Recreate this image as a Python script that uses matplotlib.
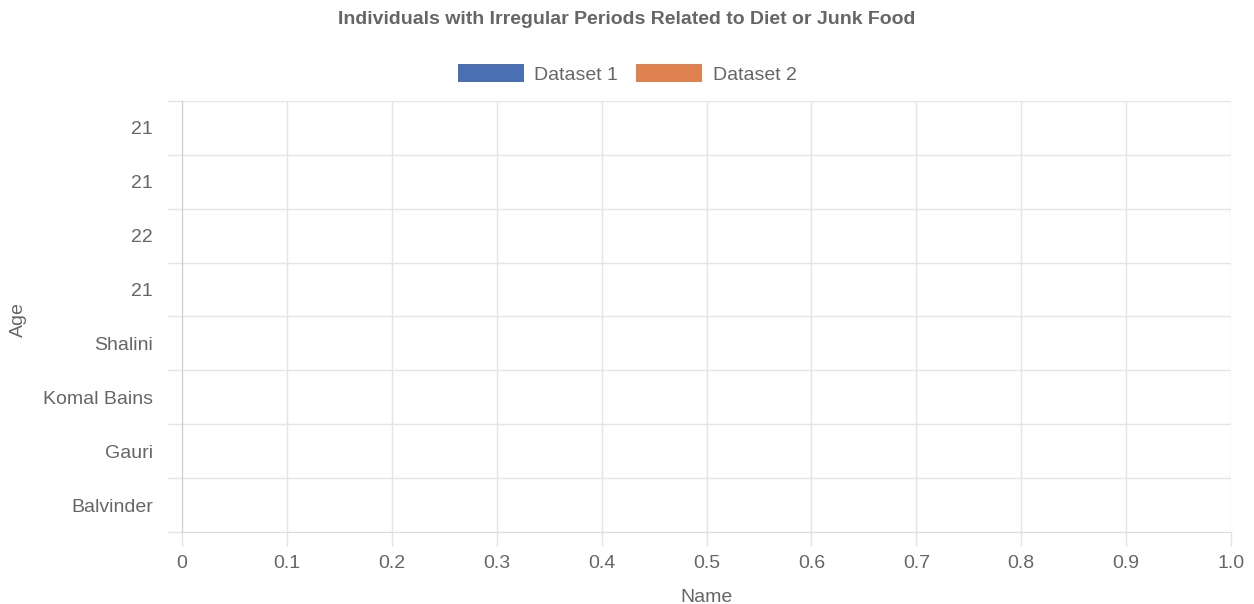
import matplotlib.pyplot as plt
import numpy as np

plt.rcParams["font.family"] = ["Liberation Sans", "DejaVu Sans"]

# Data (bottom to top, as drawn)
names = ["Balvinder", "Gauri", "Komal Bains", "Shalini", "21", "22", "21", "21"]
dataset_1 = [0, 0, 0, 0, 0, 0, 0, 0]
dataset_2 = [0, 0, 0, 0, 0, 0, 0, 0]
x_ticks = [0, 0.1, 0.2, 0.3, 0.4, 0.5, 0.6, 0.7, 0.8, 0.9, 1.0]
x_tick_labels = ["0", "0.1", "0.2", "0.3", "0.4", "0.5", "0.6", "0.7", "0.8", "0.9", "1.0"]

text_color = "#666666"
grid_color = "#e5e5e5"
blue = "#4a70b3"
orange = "#e0824f"
fs = 14

fig = plt.figure(figsize=(12.54, 6.04), dpi=100)
ax = fig.add_axes([0.1451, 0.1192, 0.8366, 0.7136])

pos = np.arange(len(names))
bar_h = 0.4
ax.barh(pos + bar_h / 2, dataset_1, height=bar_h, color=blue, label="Dataset 1")
ax.barh(pos - bar_h / 2, dataset_2, height=bar_h, color=orange, label="Dataset 2")

ax.set_xlim(0, 1)
ax.set_ylim(-0.5, len(names) - 0.5)

ax.set_yticks(pos)
ax.set_yticklabels(names)
ax.set_yticks(np.arange(len(names) + 1) - 0.5, minor=True)
ax.tick_params(axis="y", which="major", length=0, pad=21, labelsize=fs, labelcolor=text_color)
ax.tick_params(axis="y", which="minor", length=10, color=grid_color, width=1)

ax.set_xticks(x_ticks)
ax.set_xticklabels(x_tick_labels)
ax.tick_params(axis="x", which="major", length=10, color=grid_color, width=1,
               labelsize=fs, labelcolor=text_color, pad=6.5)

ax.grid(axis="x", which="major", color=grid_color, linewidth=1)
ax.grid(axis="y", which="minor", color=grid_color, linewidth=1)
ax.set_axisbelow(True)

for side in ["top", "right"]:
    ax.spines[side].set_visible(False)
ax.spines["left"].set_color("#cccccc")
ax.spines["bottom"].set_color("#dddddd")

fig.text(0.5633, 1 - 597 / 604, "Name", ha="center", va="center", fontsize=fs, color=text_color)
fig.text(18 / 1254, 1 - 320 / 604, "Age", ha="center", va="center", rotation=90,
         fontsize=fs, color=text_color)

fig.text(0.5, 1 - 19 / 604, "Individuals with Irregular Periods Related to Diet or Junk Food",
         ha="center", va="center", fontsize=14, fontweight="bold", color=text_color)

fig.legend(loc="center", bbox_to_anchor=(0.5, 1 - 74 / 604), ncol=2, frameon=False,
           fontsize=fs, handlelength=3.4, handleheight=1.0, columnspacing=0.9,
           handletextpad=0.55, labelcolor=text_color)

fig.savefig("out.png", dpi=100)
